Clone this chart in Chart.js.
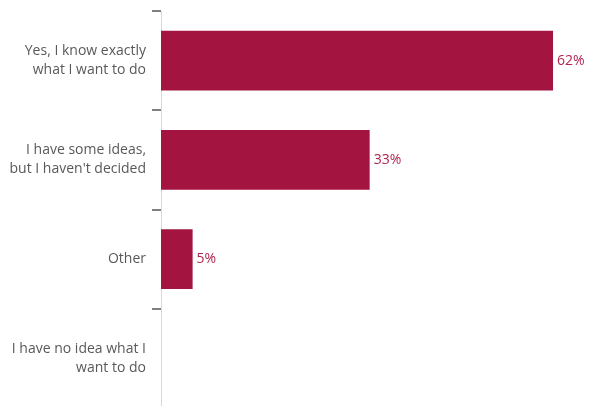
<!DOCTYPE html>
<html>
<head>
<meta charset="utf-8">
<script src="https://cdn.jsdelivr.net/npm/chart.js@4/dist/chart.umd.min.js"></script>
<style>
  html,body{margin:0;padding:0;background:#fff;overflow:hidden}
  #wrap{width:589px;height:408px;position:relative}
</style>
</head>
<body>
<div id="wrap"><canvas id="c"></canvas></div>
<script>
const categories=[
  ['Yes, I know exactly','what I want to do'],
  ['I have some ideas,','but I haven\'t decided'],
  ['Other'],
  ['I have no idea what I','want to do']
];
const values=[62,33,5,0];
const valueLabels=['62%','33%','5%',''];

const BAR='#a31441';

/* value labels at the bar ends */
const endLabels={
  id:'endLabels',
  afterDatasetsDraw(chart){
    const ctx=chart.ctx;
    const meta=chart.getDatasetMeta(0);
    ctx.save();
    ctx.font="14px 'Open Sans', sans-serif";
    ctx.fillStyle='#b0254f';
    ctx.textAlign='left';
    ctx.textBaseline='middle';
    meta.data.forEach((bar,i)=>{
      if(!valueLabels[i])return;
      ctx.fillText(valueLabels[i],bar.x+4,bar.y);
    });
    ctx.restore();
  }
};

new Chart(document.getElementById('c'),{
  type:'bar',
  data:{
    labels:categories,
    datasets:[{data:values,backgroundColor:BAR,borderWidth:0,categoryPercentage:0.6,barPercentage:1}]
  },
  options:{
    indexAxis:'y',
    responsive:true,
    maintainAspectRatio:false,
    animation:false,
    layout:{padding:{top:11,right:17,left:0,bottom:0}},
    plugins:{legend:{display:false},tooltip:{enabled:false}},
    scales:{
      x:{display:false,min:0,max:65},
      y:{
        afterFit:s=>{s.width=161;s.paddingTop=0;s.paddingBottom=0},
        grid:{drawOnChartArea:false,drawTicks:true,tickLength:9,color:'#7f7f7f',lineWidth:2,offset:true},
        border:{color:'#d9d9d9',width:1},
        ticks:{color:'#595959',padding:6,font:{family:"'Open Sans', sans-serif",size:14,lineHeight:1.35}}
      }
    }
  },
  plugins:[endLabels]
});
</script>
</body>
</html>
